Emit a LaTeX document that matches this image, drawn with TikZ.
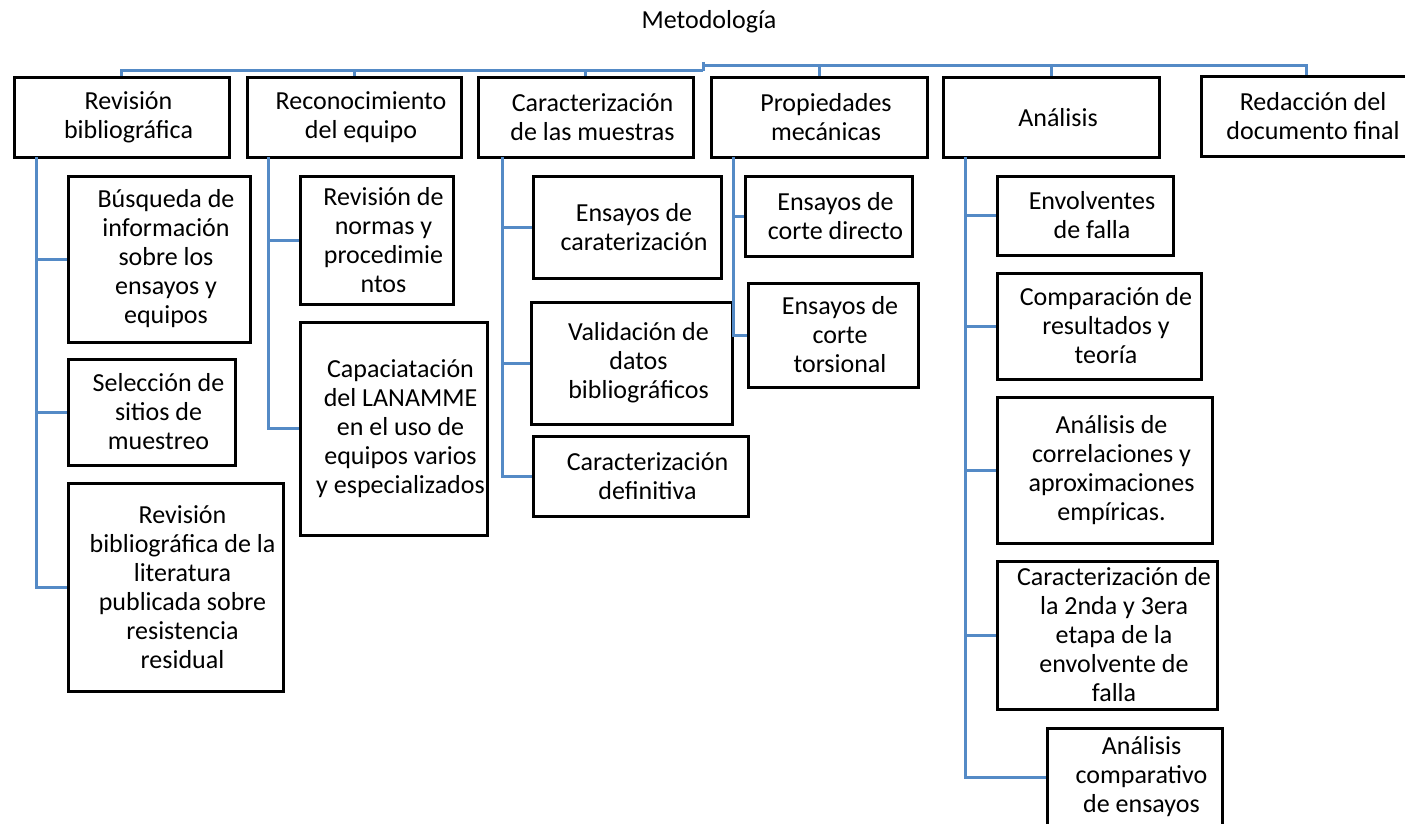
\documentclass[tikz,border=0pt]{standalone}
\usepackage{fontspec}
\setmainfont{Carlito}
\definecolor{connblue}{RGB}{84,138,198}
\tikzset{
  box/.style={draw=black, line width=3pt, fill=none, inner sep=0pt, rectangle},
  txt/.style={align=center, inner sep=0pt, font=\fontsize{26}{29}\selectfont},
  conn/.style={draw=connblue, line width=3pt}
}
\newcommand\bx[6]{%
  \node[box, minimum width={(#4-#2)*1pt}, minimum height={(#5-#3)*1pt}] (#1) at ({(#2+#4)/2},{(#3+#5)/2}) {};
  \node[txt] (#1t) at ([xshift=7pt]#1.center) {#6};
}
\begin{document}
\begin{tikzpicture}[x=1pt, y=-1pt]
\useasboundingbox (0,0) rectangle (1405,824);
% title
\node[txt, anchor=base] (title) at (709,28.3) {Metodología};
% header boxes
\bx{h1}{14}{78}{229}{157}{Revisión\\bibliográfica}
\bx{h2}{247}{78}{461}{157}{Reconocimiento\\del equipo}
\bx{h3}{478}{78}{693}{157}{Caracterización\\de las muestras}
\bx{h4}{711}{78}{927}{157}{Propiedades\\mecánicas}
\bx{h5}{943}{78}{1159}{157}{Análisis}
\bx{h6}{1201}{77}{1411}{156}{Redacción del\\documento final}
% sub boxes
\bx{s11}{68}{176}{250}{342}{Búsqueda de\\información\\sobre los\\ensayos y\\equipos}
\bx{s12}{68}{359}{235}{465}{Selección de\\sitios de\\muestreo}
\bx{s13}{68}{483}{283}{691}{Revisión\\bibliográfica de la\\literatura\\publicada sobre\\resistencia\\residual}
\bx{s21}{300}{176}{453}{304}{Revisión de\\normas y\\procedimie\\ntos}
\bx{s22}{300}{322}{487}{535}{Capaciatación\\del LANAMME\\en el uso de\\equipos varios\\y especializados}
\bx{s31}{533}{176}{721}{278}{Ensayos de\\caraterización}
\bx{s32}{531}{302}{732}{424}{Validación de\\datos\\bibliográficos}
\bx{s33}{533}{436}{748}{516}{Caracterización\\definitiva}
\bx{s41}{745}{176}{912}{256}{Ensayos de\\corte directo}
\bx{s42}{748}{283}{918}{387}{Ensayos de\\corte\\torsional}
\bx{s51}{997}{176}{1173}{255}{Envolventes\\de falla}
\bx{s52}{997}{273}{1201}{379}{Comparación de\\resultados y\\teoría}
\bx{s53}{997}{397}{1212}{543}{Análisis de\\correlaciones y\\aproximaciones\\empíricas.}
\bx{s54}{997}{561}{1217}{709}{Caracterización de\\la 2nda y 3era\\etapa de la\\envolvente de\\falla}
\bx{s55}{1047}{728}{1222}{826}{Análisis\\comparativo\\de ensayos}
% bus
\coordinate (root) at (703,62);
\coordinate (jL) at (703,71);
\coordinate (jR) at (703,66);
\draw[conn] (root) -- (jL);
\draw[conn] (jL) -| (h1.north);
\draw[conn] (jL -| h2.north) -- (h2.north);
\draw[conn] (jL -| h3.north) -- (h3.north);
\draw[conn] (jR) -| (h6.north);
\draw[conn] (jR -| h4.north) -- (h4.north);
\draw[conn] (jR -| h5.north) -- (h5.north);
% column spines
\coordinate (c1) at (36,157);
\coordinate (c2) at (268,157);
\coordinate (c3) at (502,157);
\coordinate (c4) at (733,157);
\coordinate (c5) at (965,157);
\draw[conn] (c1) |- (s13.west);
\draw[conn] (c1 |- s11.west) -- (s11.west);
\draw[conn] (c1 |- s12.west) -- (s12.west);
\draw[conn] (c2) |- (s22.west);
\draw[conn] (c2 |- s21.west) -- (s21.west);
\draw[conn] (c3) |- (s33.west);
\draw[conn] (c3 |- s31.west) -- (s31.west);
\draw[conn] (c3 |- s32.west) -- (s32.west);
\draw[conn] (c4) |- (s42.west);
\draw[conn] (c4 |- s41.west) -- (s41.west);
\draw[conn] (c5) |- (s55.west);
\draw[conn] (c5 |- s51.west) -- (s51.west);
\draw[conn] (c5 |- s52.west) -- (s52.west);
\draw[conn] (c5 |- s53.west) -- (s53.west);
\draw[conn] (c5 |- s54.west) -- (s54.west);
\end{tikzpicture}
\end{document}
